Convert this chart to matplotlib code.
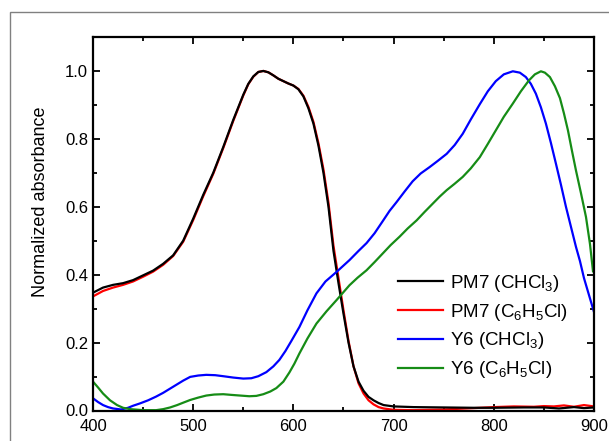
import numpy as np
import matplotlib
matplotlib.use("Agg")
from matplotlib import pyplot as plt
from matplotlib.patches import Rectangle
from matplotlib.ticker import MultipleLocator, FormatStrFormatter

plt.rcParams['font.family'] = ['Liberation Sans', 'DejaVu Sans']
plt.rcParams['mathtext.default'] = 'regular'

# PM7 in chloroform (black)
pm7_cf_x = [400, 410, 420, 430, 440, 450, 460, 470, 480, 490, 500, 510, 520, 530, 540,
            550, 555, 560, 565, 570, 575, 580, 585, 590, 595, 600, 605, 610, 615, 620,
            625, 630, 635, 640, 645, 650, 655, 660, 665, 670, 675, 680, 685, 690, 700,
            720, 750, 780, 800, 830, 850, 865, 880, 890, 900]
pm7_cf_y = [0.347, 0.362, 0.370, 0.375, 0.384, 0.398, 0.412, 0.432, 0.457, 0.500, 0.565,
            0.635, 0.700, 0.776, 0.856, 0.930, 0.962, 0.984, 0.997, 1.000, 0.996, 0.987,
            0.977, 0.970, 0.963, 0.957, 0.946, 0.925, 0.890, 0.845, 0.780, 0.700, 0.600,
            0.470, 0.375, 0.285, 0.200, 0.130, 0.085, 0.058, 0.040, 0.030, 0.022, 0.016,
            0.012, 0.010, 0.009, 0.008, 0.008, 0.009, 0.009, 0.006, 0.010, 0.007, 0.009]

# PM7 in chlorobenzene (red)
pm7_cb_x = [400, 410, 420, 430, 440, 450, 460, 470, 480, 490, 500, 510, 520, 530, 540,
            550, 555, 560, 565, 570, 575, 580, 585, 590, 595, 600, 605, 610, 615, 620,
            625, 630, 635, 640, 645, 650, 655, 660, 665, 670, 675, 680, 685, 690, 700,
            720, 750, 780, 800, 820, 840, 850, 860, 870, 880, 890, 900]
pm7_cb_y = [0.336, 0.352, 0.362, 0.370, 0.380, 0.394, 0.409, 0.429, 0.455, 0.497, 0.561,
            0.631, 0.697, 0.773, 0.853, 0.928, 0.961, 0.983, 0.997, 1.000, 0.996, 0.987,
            0.977, 0.970, 0.963, 0.957, 0.947, 0.927, 0.894, 0.850, 0.787, 0.710, 0.612,
            0.485, 0.390, 0.295, 0.205, 0.130, 0.080, 0.050, 0.030, 0.018, 0.010, 0.006,
            0.002, 0.001, 0.003, 0.007, 0.010, 0.012, 0.011, 0.013, 0.012, 0.015, 0.011,
            0.016, 0.012]

# Y6 in chloroform (blue)
y6_cf_x = [400, 405, 410, 415, 420, 428, 435, 440, 447, 455, 463, 470, 480, 490, 497, 505,
           513, 522, 530, 540, 550, 558, 565, 573, 580, 586, 592, 598, 606, 614, 623, 632,
           643, 656, 665, 673, 681, 689, 696, 703, 711, 719, 727, 736, 744, 753, 761, 769,
           777, 786, 794, 802, 810, 819, 826, 832, 837, 842, 847, 852, 857, 862, 867, 872,
           877, 882, 886, 890, 893, 896, 900]
y6_cf_y = [0.036, 0.025, 0.016, 0.010, 0.006, 0.003, 0.008, 0.014, 0.021, 0.030, 0.041,
           0.052, 0.070, 0.088, 0.099, 0.103, 0.105, 0.104, 0.101, 0.097, 0.094, 0.095,
           0.101, 0.113, 0.130, 0.149, 0.175, 0.205, 0.246, 0.295, 0.345, 0.380, 0.408,
           0.443, 0.470, 0.493, 0.522, 0.557, 0.588, 0.614, 0.645, 0.675, 0.698, 0.717,
           0.735, 0.756, 0.782, 0.815, 0.857, 0.902, 0.940, 0.970, 0.990, 0.999, 0.995,
           0.982, 0.962, 0.933, 0.893, 0.845, 0.788, 0.727, 0.665, 0.600, 0.541, 0.482,
           0.440, 0.390, 0.360, 0.330, 0.290]

# Y6 in chlorobenzene (green)
y6_cb_x = [400, 405, 410, 417, 424, 430, 437, 450, 463, 470, 477, 484, 490, 497, 505, 513,
           521, 530, 538, 547, 556, 563, 570, 577, 583, 590, 596, 601, 606, 614, 623, 633,
           643, 656, 664, 673, 681, 689, 697, 706, 714, 723, 731, 739, 746, 753, 761, 769,
           777, 786, 794, 802, 810, 819, 827, 835, 841, 847, 851, 856, 861, 866, 870, 874,
           878, 882, 887, 892, 896, 899]
y6_cb_y = [0.085, 0.068, 0.050, 0.030, 0.016, 0.008, 0.004, 0.001, 0.001, 0.004, 0.009,
           0.016, 0.023, 0.031, 0.038, 0.044, 0.047, 0.048, 0.046, 0.044, 0.042, 0.043,
           0.048, 0.056, 0.066, 0.085, 0.112, 0.138, 0.168, 0.212, 0.256, 0.292, 0.325,
           0.369, 0.391, 0.413, 0.437, 0.462, 0.487, 0.512, 0.536, 0.560, 0.585, 0.609,
           0.630, 0.649, 0.668, 0.688, 0.713, 0.746, 0.785, 0.825, 0.865, 0.904, 0.940,
           0.972, 0.990, 0.999, 0.995, 0.982, 0.955, 0.920, 0.875, 0.825, 0.765, 0.707,
           0.640, 0.570, 0.490, 0.410]

series = [
    (pm7_cf_x, pm7_cf_y, 'black', 'PM7 (CHCl$_3$)'),
    (pm7_cb_x, pm7_cb_y, 'red', 'PM7 (C$_6$H$_5$Cl)'),
    (y6_cf_x, y6_cf_y, 'blue', 'Y6 (CHCl$_3$)'),
    (y6_cb_x, y6_cb_y, '#168c16', 'Y6 (C$_6$H$_5$Cl)'),
]

fig = plt.figure(figsize=(6.09, 4.41), dpi=100)

# gray frame around the figure
frame = Rectangle((10 / 609, -0.1), 1.2, 1.1 - 12 / 441, transform=fig.transFigure,
                  fill=False, edgecolor='#808080', linewidth=1.0, clip_on=False)
fig.patches.append(frame)

ax = fig.add_axes([93 / 609, 1 - 410.5 / 441, 501 / 609, 373.5 / 441])

# red drawn under black so the black curve sits on top
order = [1, 0, 2, 3]
lines = {}
for i in order:
    x, y, c, lab = series[i]
    lines[i], = ax.plot(x, y, color=c, lw=1.6, label=lab)

ax.set_xlim(400, 900)
ax.set_ylim(0, 1.1)
ax.xaxis.set_major_locator(MultipleLocator(100))
ax.xaxis.set_minor_locator(MultipleLocator(50))
ax.yaxis.set_major_locator(MultipleLocator(0.2))
ax.yaxis.set_minor_locator(MultipleLocator(0.1))
ax.yaxis.set_major_formatter(FormatStrFormatter('%.1f'))

ax.tick_params(which='both', direction='in', top=True, right=True, width=1.3,
               labelsize=12)
ax.tick_params(which='major', length=5)
ax.tick_params(which='minor', length=3)
ax.tick_params(axis='x', pad=6)
for sp in ax.spines.values():
    sp.set_linewidth(1.6)

ax.set_ylabel('Normalized absorbance', fontsize=13)
ax.yaxis.set_label_coords(-0.088, 0.56)

ax.legend([lines[i] for i in range(4)], [s[3] for s in series],
          loc='upper left', bbox_to_anchor=(0.609, 0.369), frameon=False,
          fontsize=13.5, handlelength=2.4, handletextpad=0.35,
          labelspacing=0.42, borderpad=0, borderaxespad=0)

fig.savefig('out.png', dpi=100)
